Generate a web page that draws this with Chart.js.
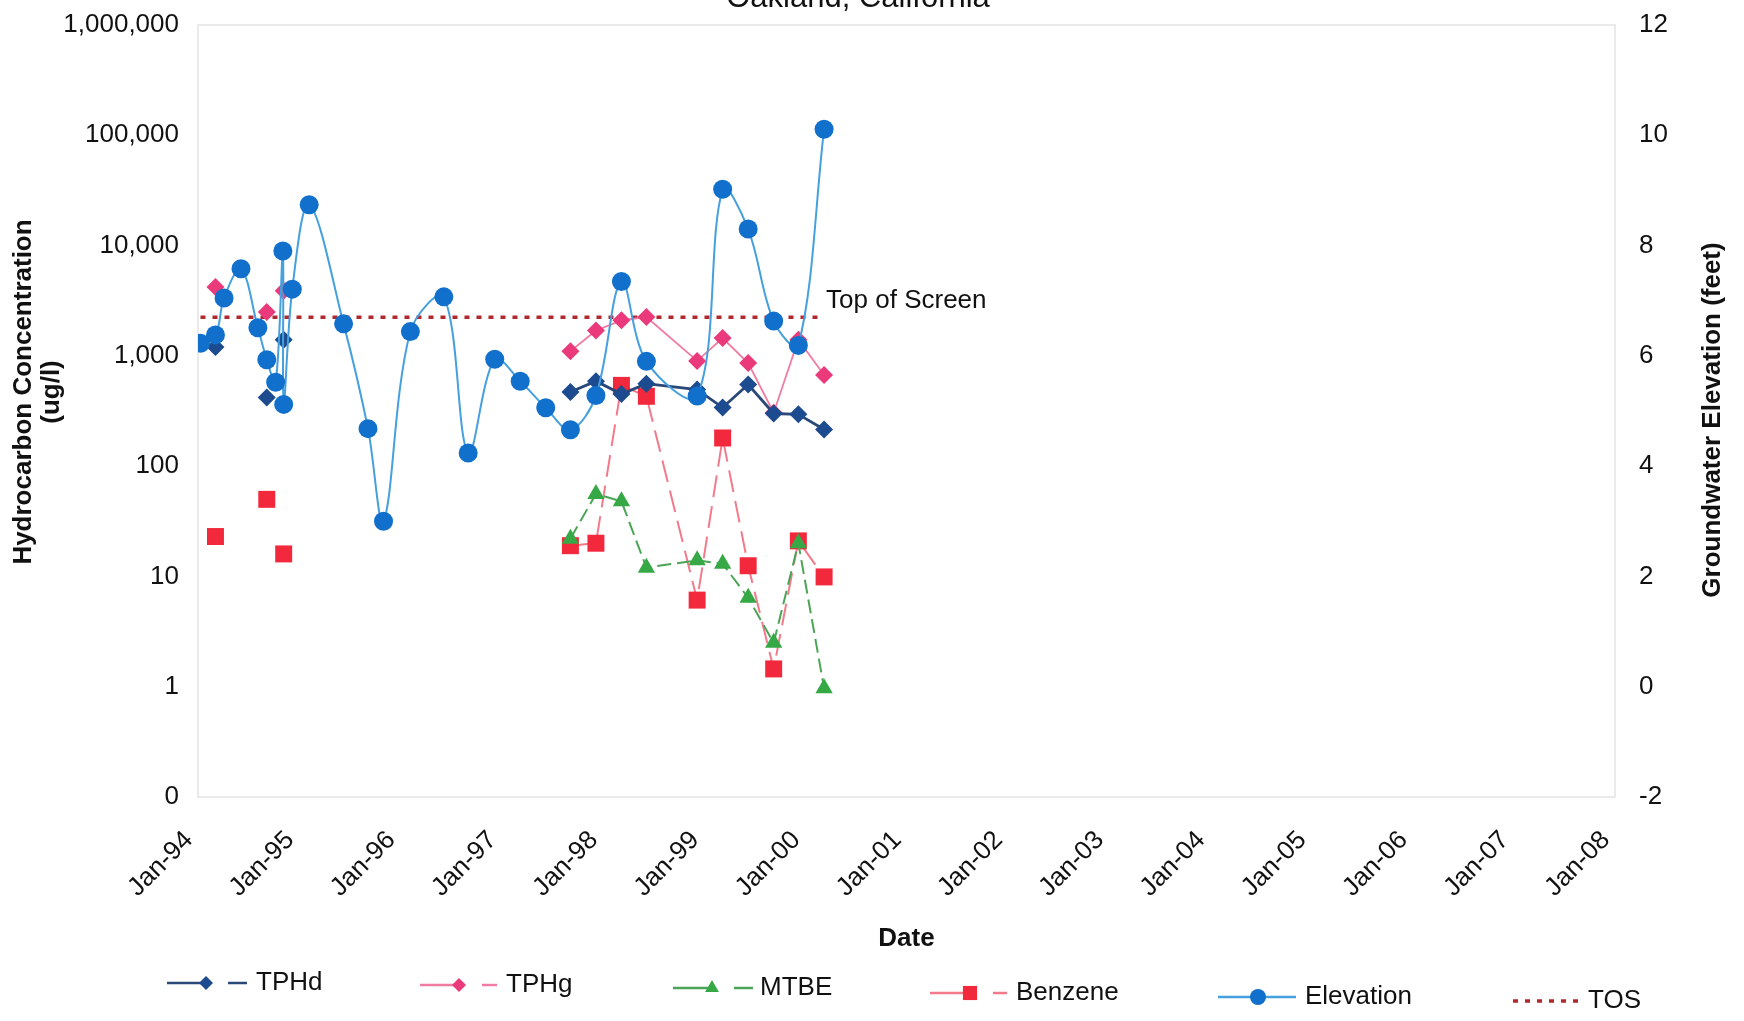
<!DOCTYPE html>
<html>
<head>
<meta charset="utf-8">
<title>Hydrocarbon Concentrations and Groundwater Elevation – Oakland, California</title>
<script src="https://cdn.jsdelivr.net/npm/chart.js@4.4.1/dist/chart.umd.min.js"></script>
<style>
  html, body { margin: 0; padding: 0; background: #ffffff; }
  #wrap { position: relative; width: 1744px; height: 1021px; }
  canvas { display: block; }
</style>
</head>
<body>
<div id="wrap"><canvas id="chart" width="1744" height="1021"></canvas></div>
<script>
// ---- Monitoring events (sampling dates) ----
const sampleDates = [
  '1994-01-10', '1994-03-05', '1994-04-05', '1994-06-05', '1994-08-05',
  '1994-09-06', '1994-10-08', '1994-11-03', '1994-11-06', '1994-12-07',
  '1995-02-06', '1995-06-10', '1995-09-06', '1995-11-01', '1996-02-06',
  '1996-06-06', '1996-09-02', '1996-12-07', '1997-03-09', '1997-06-09',
  '1997-09-06', '1997-12-07', '1998-03-09', '1998-06-07', '1998-12-07',
  '1999-03-09', '1999-06-09', '1999-09-09', '1999-12-07', '2000-03-09'
];

// ---- Hydrocarbon concentrations (ug/l); null = not sampled ----
const tphd = [
  null, 1200, null, null, null, 420, null, null, 1400, null,
  null, null, null, null, null, null, null, null, null, null,
  470, 590, 450, 560, 495, 340, 550, 300, 295, 215
];
const tphg = [
  null, 4200, null, null, null, 2500, null, null, 3900, null,
  null, null, null, null, null, null, null, null, null, null,
  1100, 1700, 2100, 2250, 900, 1450, 860, 305, 1400, 670
];
const mtbe = [
  null, null, null, null, null, null, null, null, null, null,
  null, null, null, null, null, null, null, null, null, null,
  22, 56, 48, 12, 14, 13, 6.4, 2.5, 20, 0.97
];
const benzene = [
  null, 23, null, null, null, 50, null, null, 16, null,
  null, null, null, null, null, null, null, null, null, null,
  19, 20, 540, 430, 6.1, 180, 12.5, 1.45, 21, 9.9
];

// ---- Groundwater elevation (feet) ----
const elevation = [
  6.23, 6.38, 7.05, 7.58, 6.51, 5.93, 5.52, 7.90, 5.12, 7.21,
  8.74, 6.58, 4.68, 3.00, 6.44, 7.07, 4.24, 5.94, 5.54, 5.06,
  4.66, 5.28, 7.35, 5.90, 5.27, 9.02, 8.30, 6.63, 6.19, 10.11
];

// ---- Top of well screen (feet) ----
const tosDates = ['1994-01-10', '2000-03-09'];
const tosElevation = [6.7, 6.7];

// ---- Axis ticks ----
const yearTicks = [1994, 1995, 1996, 1997, 1998, 1999, 2000, 2001, 2002, 2003, 2004, 2005, 2006, 2007, 2008];
const yearTickLabels = ['Jan-94', 'Jan-95', 'Jan-96', 'Jan-97', 'Jan-98', 'Jan-99', 'Jan-00', 'Jan-01',
                        'Jan-02', 'Jan-03', 'Jan-04', 'Jan-05', 'Jan-06', 'Jan-07', 'Jan-08'];
const concTicks = [0.1, 1, 10, 100, 1000, 10000, 100000, 1000000];
const concTickLabels = ['0', '1', '10', '100', '1,000', '10,000', '100,000', '1,000,000'];
const elevTicks = [-2, 0, 2, 4, 6, 8, 10, 12];
const elevTickLabels = ['-2', '0', '2', '4', '6', '8', '10', '12'];

// ---- helpers ----
const FONT = '"Liberation Sans", Arial, Helvetica, sans-serif';
function toYear(s) {
  const [y, m, d] = s.split('-').map(Number);
  const t = Date.UTC(y, m - 1, d), a = Date.UTC(y, 0, 1), b = Date.UTC(y + 1, 0, 1);
  return y + (t - a) / (b - a);
}
const xs = sampleDates.map(toYear);
const series = vals => vals.map((v, i) => ({ x: xs[i], y: v }));

const COLORS = {
  tphd: '#1d4b8f', tphdLine: '#2a4878',
  tphg: '#ea3a7c', tphgLine: '#f07ca2',
  mtbe: '#36a846', mtbeLine: '#4aa556',
  benz: '#f2283c', benzLine: '#f27a8b',
  elev: '#1170cc', elevLine: '#45a0dd',
  tos: '#b0282c'
};

// ---- drawing of the plot frame, notes, titles and legend ----
function drawMarker(ctx, style, x, y, r, color) {
  ctx.save();
  ctx.fillStyle = color;
  ctx.beginPath();
  if (style === 'circle') {
    ctx.arc(x, y, r, 0, Math.PI * 2);
  } else if (style === 'rectRot') {
    ctx.moveTo(x, y - r); ctx.lineTo(x + r, y); ctx.lineTo(x, y + r); ctx.lineTo(x - r, y); ctx.closePath();
  } else if (style === 'rect') {
    const s = r * Math.SQRT1_2;
    ctx.rect(x - s, y - s, 2 * s, 2 * s);
  } else if (style === 'triangle') {
    ctx.moveTo(x, y - r); ctx.lineTo(x + r * 0.866, y + r * 0.5); ctx.lineTo(x - r * 0.866, y + r * 0.5); ctx.closePath();
  }
  ctx.fill();
  ctx.restore();
}
function seg(ctx, x0, x1, y, color, width, dash) {
  ctx.save();
  ctx.strokeStyle = color; ctx.lineWidth = width;
  ctx.setLineDash(dash || []);
  ctx.beginPath(); ctx.moveTo(x0, y); ctx.lineTo(x1, y); ctx.stroke();
  ctx.restore();
}

const legendItems = [
  { label: 'TPHd', line: COLORS.tphdLine, mark: COLORS.tphd, style: 'rectRot', r: 7, x0: 167, mx: 206, dash: [228, 247], tx: 256, y: 983 },
  { label: 'TPHg', line: COLORS.tphgLine, mark: COLORS.tphg, style: 'rectRot', r: 7, x0: 420, mx: 459, dash: [482, 497], tx: 506, y: 985 },
  { label: 'MTBE', line: COLORS.mtbeLine, mark: COLORS.mtbe, style: 'triangle', r: 8, x0: 673, mx: 712, dash: [734, 753], tx: 760, y: 988 },
  { label: 'Benzene', line: COLORS.benzLine, mark: COLORS.benz, style: 'rect', r: 10, x0: 930, mx: 970, dash: [993, 1007], tx: 1016, y: 993 },
  { label: 'Elevation', line: COLORS.elevLine, mark: COLORS.elev, style: 'circle', r: 8, x0: 1218, mx: 1258, x1: 1296, tx: 1305, y: 997 },
  { label: 'TOS', line: COLORS.tos, dotted: true, x0: 1513, x1: 1585, tx: 1588, y: 1001 }
];

const decorations = {
  id: 'decorations',
  beforeDatasetsDraw(chart) {
    const { ctx, chartArea: a } = chart;
    ctx.save();
    ctx.strokeStyle = '#e3e3e3';
    ctx.lineWidth = 1.5;
    ctx.strokeRect(a.left, a.top, a.right - a.left, a.bottom - a.top);
    ctx.restore();
  },
  afterDatasetsDraw(chart) {
    const ctx = chart.ctx;
    const meta = chart.getDatasetMeta(chart.data.datasets.length - 1);
    const end = meta.data[meta.data.length - 1];
    ctx.save();
    ctx.fillStyle = '#111';
    ctx.font = '26px ' + FONT;
    ctx.textAlign = 'left';
    ctx.textBaseline = 'middle';
    ctx.fillText('Top of Screen', end.x + 2, end.y - 16);
    ctx.restore();
  },
  afterDraw(chart) {
    const ctx = chart.ctx;
    ctx.save();
    ctx.fillStyle = '#111';
    // chart heading
    ctx.font = '31px ' + FONT;
    ctx.textAlign = 'center';
    ctx.textBaseline = 'alphabetic';
    ctx.fillText('Oakland, California', 858, 7);

    // axis titles (both read bottom-to-top)
    ctx.font = 'bold 26px ' + FONT;
    ctx.textBaseline = 'middle';
    ctx.save();
    ctx.translate(24, 392); ctx.rotate(-Math.PI / 2);
    ctx.fillText('Hydrocarbon Concentration', 0, 0);
    ctx.fillText('(ug/l)', 0, 28);
    ctx.restore();
    ctx.save();
    ctx.translate(1713, 420); ctx.rotate(-Math.PI / 2);
    ctx.fillText('Groundwater Elevation (feet)', 0, 0);
    ctx.restore();

    // legend
    ctx.font = '26px ' + FONT;
    ctx.textAlign = 'left';
    legendItems.forEach(it => {
      if (it.dotted) {
        seg(ctx, it.x0, it.x1, it.y, it.line, 3.5, [5, 7]);
      } else {
        seg(ctx, it.x0, it.x1 || it.mx, it.y, it.line, 2.5);
        if (it.dash) seg(ctx, it.dash[0], it.dash[1], it.y, it.line, 2.5);
        drawMarker(ctx, it.style, it.mx, it.y, it.r, it.mark);
      }
      ctx.fillStyle = '#111';
      ctx.fillText(it.label, it.tx, it.y);
    });
    ctx.restore();
  }
};

const tickFont = { family: FONT, size: 26 };
// vertical axes: fixed widths, and no extra room reserved above/below for the end labels
const fixVertical = width => s => { s.width = width; s.paddingTop = 0; s.paddingBottom = 0; };

new Chart(document.getElementById('chart'), {
  type: 'line',
  data: {
    datasets: [
      {
        label: 'Elevation', yAxisID: 'yElev', data: series(elevation),
        borderColor: COLORS.elevLine, borderWidth: 2, tension: 0.35,
        pointStyle: 'circle', pointRadius: 9.5, pointBackgroundColor: COLORS.elev, pointBorderColor: COLORS.elev, pointBorderWidth: 0
      },
      {
        label: 'TPHd', yAxisID: 'yConc', data: series(tphd), spanGaps: false,
        borderColor: COLORS.tphdLine, borderWidth: 2.8,
        pointStyle: 'rectRot', pointRadius: 9, pointBackgroundColor: COLORS.tphd, pointBorderColor: COLORS.tphd, pointBorderWidth: 0
      },
      {
        label: 'TPHg', yAxisID: 'yConc', data: series(tphg), spanGaps: false,
        borderColor: COLORS.tphgLine, borderWidth: 1.8,
        pointStyle: 'rectRot', pointRadius: 9, pointBackgroundColor: COLORS.tphg, pointBorderColor: COLORS.tphg, pointBorderWidth: 0
      },
      {
        label: 'MTBE', yAxisID: 'yConc', data: series(mtbe), spanGaps: false,
        borderColor: COLORS.mtbeLine, borderWidth: 2, borderDash: [14, 6],
        pointStyle: 'triangle', pointRadius: 10, pointBackgroundColor: COLORS.mtbe, pointBorderColor: COLORS.mtbe, pointBorderWidth: 0
      },
      {
        label: 'Benzene', yAxisID: 'yConc', data: series(benzene), spanGaps: false,
        borderColor: COLORS.benzLine, borderWidth: 2, borderDash: [22, 9],
        pointStyle: 'rect', pointRadius: 12, pointBackgroundColor: COLORS.benz, pointBorderColor: COLORS.benz, pointBorderWidth: 0
      },
      {
        label: 'TOS', yAxisID: 'yElev',
        data: tosDates.map((d, i) => ({ x: toYear(d), y: tosElevation[i] })),
        borderColor: COLORS.tos, borderWidth: 3.5, borderDash: [5, 7], pointRadius: 0
      }
    ]
  },
  options: {
    responsive: false,
    devicePixelRatio: 1,
    animation: false,
    events: [],
    layout: { padding: { top: 25, left: 0, right: 0, bottom: 0 } },
    plugins: { legend: { display: false }, tooltip: { enabled: false }, title: { display: false } },
    scales: {
      x: {
        type: 'linear', min: 1994, max: 2008,
        grid: { display: false, drawTicks: false }, border: { display: false },
        afterBuildTicks: s => { s.ticks = yearTicks.map(v => ({ value: v })); },
        afterFit: s => { s.height = 224; },
        ticks: {
          autoSkip: false, minRotation: 45, maxRotation: 45, padding: 28, labelOffset: -9,
          color: '#111', font: tickFont,
          callback: (v, i) => yearTickLabels[i]
        },
        title: { display: true, text: 'Date', color: '#111', font: { family: FONT, size: 26, weight: 'bold' }, padding: { top: 0, bottom: 67 } }
      },
      yConc: {
        type: 'logarithmic', position: 'left', min: 0.1, max: 1000000,
        grid: { display: false, drawTicks: false }, border: { display: false },
        afterBuildTicks: s => { s.ticks = concTicks.map(v => ({ value: v })); },
        afterFit: fixVertical(198),
        ticks: { padding: 19, color: '#111', font: tickFont, callback: (v, i) => concTickLabels[i] }
      },
      yElev: {
        type: 'linear', position: 'right', min: -2, max: 12,
        grid: { display: false, drawTicks: false }, border: { display: false },
        afterBuildTicks: s => { s.ticks = elevTicks.map(v => ({ value: v })); },
        afterFit: fixVertical(129),
        ticks: { padding: 24, color: '#111', font: tickFont, callback: (v, i) => elevTickLabels[i] }
      }
    }
  },
  plugins: [decorations]
});
</script>
</body>
</html>
